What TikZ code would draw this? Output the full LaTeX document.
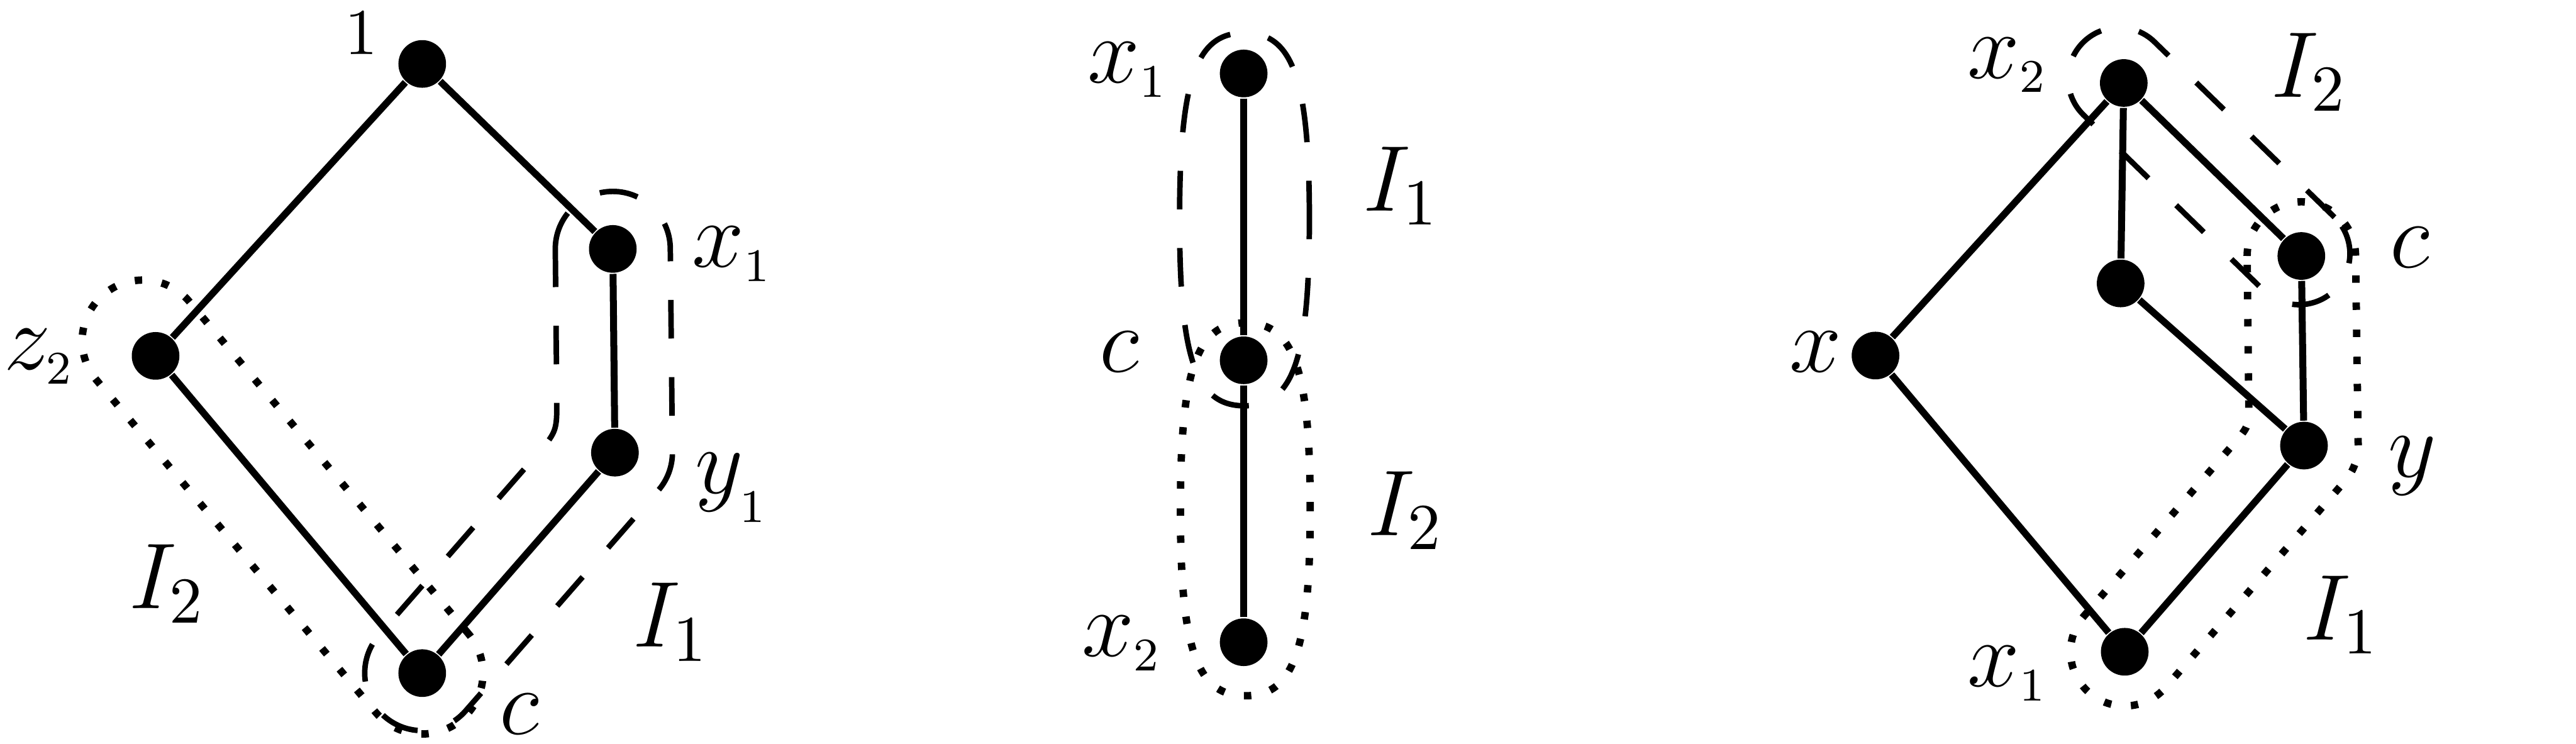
\RequirePackage{fix-cm}
\documentclass[tikz,border=0pt]{standalone}
\usepackage{amsmath}
\usepackage{amssymb}
\usetikzlibrary{calc}

\tikzset{
  pics/blob/.style={code={
    \draw (0.395,0) .. controls (0.395,0.851) and (0.296,1.135) .. (0,1.135)
      .. controls (-0.296,1.135) and (-0.395,0.851) .. (-0.395,0)
      .. controls (-0.395,-0.851) and (-0.296,-1.135) .. (0,-1.135)
      .. controls (0.296,-1.135) and (0.395,-0.851) .. (0.395,0) -- cycle;
  }}
}

\begin{document}
\begin{tikzpicture}[
    font=\fontsize{16.2}{19}\selectfont,
    vertex/.style={circle, fill, inner sep=0pt, minimum size=0.29cm},
    link/.style={line width=1.2pt},
    lbl/.style={anchor=base, inner sep=0pt},
    idealA/.style={line width=0.95pt, dash pattern=on 0.235cm off 0.235cm},
    idealB/.style={line width=0.045cm, dash pattern=on 0.045cm off 0.12cm}
  ]
  \useasboundingbox (0,0) rectangle (15.68,-4.526);

  % Draw the nodes
  \node[vertex] (Lone) at (2.57,-0.389) {};
  \node[vertex] (Lx1) at (3.73,-1.515) {};
  \node[vertex] (Lz2) at (0.947,-2.166) {};
  \node[vertex] (Ly1) at (3.743,-2.755) {};
  \node[vertex] (Lc) at (2.57,-4.097) {};

  \node[vertex] (Mx1) at (7.57,-0.447) {};
  \node[vertex] (Mc) at (7.57,-2.193) {};
  \node[vertex] (Mx2) at (7.57,-3.909) {};

  \node[vertex] (Rx2) at (12.927,-0.505) {};
  \node[vertex] (Rm) at (12.908,-1.725) {};
  \node[vertex] (Rc) at (14.008,-1.558) {};
  \node[vertex] (Rx) at (11.416,-2.164) {};
  \node[vertex] (Ry) at (14.024,-2.712) {};
  \node[vertex] (Rx1) at (12.933,-3.967) {};

  % Draw the edges
  \draw[link] (Lone) -- (Lz2);
  \draw[link] (Lone) -- (Lx1);
  \draw[link] (Lx1) -- (Ly1);
  \draw[link] (Lz2) -- (Lc);
  \draw[link] (Ly1) -- (Lc);

  \draw[link] (Mx1) -- (Mc);
  \draw[link] (Mc) -- (Mx2);

  \draw[link] (Rx2) -- (Rx);
  \draw[link] (Rx2) -- (Rm);
  \draw[link] (Rx2) -- (Rc);
  \draw[link] (Rm) -- (Ry);
  \draw[link] (Rc) -- (Ry);
  \draw[link] (Rx) -- (Rx1);
  \draw[link] (Ry) -- (Rx1);

  % Draw the ideals
  \draw[idealA] ($(Lx1)+(180:0.35)$) arc[start angle=180, end angle=0, radius=0.35]
    -- ($(Ly1)+(0:0.35)$) arc[start angle=0, end angle=-41.2, radius=0.35]
    -- ($(Lc)+(-41.2:0.35)$) arc[start angle=-41.2, end angle=-221.2, radius=0.35]
    -- (3.258,-2.778) .. controls (3.39,-2.627) .. (3.389,-2.427) -- cycle;
  \node[idealB, draw, rotate=-49.96, minimum width=3.3825cm, minimum height=0.74cm,
    rounded corners=0.37cm] (LI2) at (1.72,-3.086) {};

  \pic[idealA] at (7.575,-1.335) {blob};
  \pic[idealB] at (7.58,-3.10) {blob};

  \node[idealA, draw, rotate=-44.25, minimum width=2.149cm, minimum height=0.62cm,
    rounded corners=0.31cm] (RI2) at (13.446,-1.011) {};
  \draw[idealB] ($(Rc)+(180:0.33)$) arc[start angle=180, end angle=0, radius=0.33]
    -- ($(Ry)+(0:0.33)$) arc[start angle=0, end angle=-41, radius=0.33]
    -- ($(Rx1)+(-41:0.33)$) arc[start angle=-41, end angle=-221, radius=0.33]
    -- (13.592,-2.706) .. controls (13.69,-2.593) .. (13.688,-2.443) -- cycle;

  % Draw the labels
  \node[lbl] (tLone) at (2.20,-0.33) {$\scriptstyle 1$};
  \node[lbl] (tLx1) at (4.455,-1.626) {$x_{\scriptscriptstyle 1}$};
  \node[lbl] (tLz2) at (0.237,-2.25) {$z_{\scriptscriptstyle 2}$};
  \node[lbl] (tLy1) at (4.453,-3.004) {$y_{\raisebox{-0.09cm}{$\scriptscriptstyle 1$}}$};
  \node[lbl] (tLc) at (3.16,-4.47) {$c$};
  \node[lbl] (tLI2) at (1.019,-3.705) {$I_2$};
  \node[lbl] (tLI1) at (4.085,-3.938) {$I_1$};

  \node[lbl] (tMx1) at (6.865,-0.505) {$x_{\scriptscriptstyle 1}$};
  \node[lbl] (tMc) at (6.815,-2.265) {$c$};
  \node[lbl] (tMx2) at (6.828,-3.996) {$x_{\scriptscriptstyle 2}$};
  \node[lbl] (tMI1) at (8.527,-1.284) {$I_1$};
  \node[lbl] (tMI2) at (8.554,-3.26) {$I_2$};

  \node[lbl] (tRx2) at (12.22,-0.476) {$x_{\scriptscriptstyle 2}$};
  \node[lbl] (tRI2) at (14.055,-0.59) {$I_2$};
  \node[lbl] (tRc) at (14.67,-1.63) {$c$};
  \node[lbl] (tRx) at (11.053,-2.265) {$x$};
  \node[lbl] (tRy) at (14.685,-2.902) {$y$};
  \node[lbl] (tRx1) at (12.22,-4.18) {$x_{\scriptscriptstyle 1}$};
  \node[lbl] (tRI1) at (14.25,-3.893) {$I_1$};
\end{tikzpicture}
\end{document}
